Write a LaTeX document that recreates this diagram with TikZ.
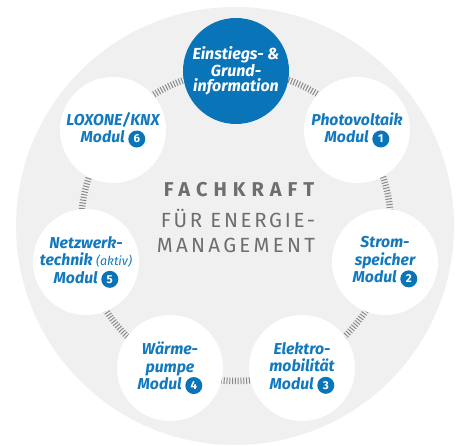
\documentclass[tikz,border=0pt]{standalone}
\usepackage{fontspec}
\setmainfont{Fira Sans}
\definecolor{bigbg}{HTML}{F0F0F0}
\definecolor{mblue}{HTML}{0A74B8}
\definecolor{tblue}{HTML}{1279BE}
\definecolor{cgray}{HTML}{6E6E6E}
\definecolor{tickgray}{HTML}{8A8A8A}
\newcommand{\numbadge}[1]{\tikz[baseline=(nb.base)]\node[badge](nb){#1};}
\tikzset{
  modcircle/.style={circle,fill=white,minimum size=106pt,inner sep=0pt,align=center,
     text=tblue,font=\fontsize{15.8}{17.5}\selectfont\bfseries\itshape},
  topcircle/.style={circle,fill=mblue,minimum size=106pt,inner sep=0pt,align=center,
     text=white,font=\fontsize{16}{15.5}\selectfont\bfseries\itshape},
  badge/.style={circle,fill=mblue,text=white,inner sep=0pt,minimum size=17pt,
     font=\fontsize{11.5}{12}\selectfont\bfseries\upshape},
  ticks/.style={draw=tickgray,line width=6.5pt,dash pattern=on 1pt off 1.8pt},
  centertext/.style={text=cgray,align=center}
}
\begin{document}
\begin{tikzpicture}[x=1pt,y=-1pt]
\useasboundingbox (0,0) rectangle (463,446);
\fill[bigbg] (235,226) circle[radius=219];
\coordinate (rc) at (236,226);
\draw[ticks] (rc) circle[radius=155];
\node[topcircle] (top) at (236,71) {Einstiegs- \&\\Grund-\\information};
\node[modcircle] (pv) at (357,130) {Photovoltaik\\Modul \numbadge{1}};
\node[modcircle] (strom) at (385,262) {Strom-\\speicher\\Modul \numbadge{2}};
\node[modcircle] (emob) at (302,368) {Elektro-\\mobilität\\Modul \numbadge{3}};
\node[modcircle] (wp) at (170,368) {Wärme-\\pumpe\\Modul \numbadge{4}};
\node[modcircle] (netz) at (86,262) {Netzwerk-\\technik {\fontsize{12.5}{13}\selectfont\mdseries(aktiv)}\\Modul \numbadge{5}};
\node[modcircle] (lox) at (113,130) {LOXONE/KNX\\Modul \numbadge{6}};
\node[centertext,font=\fontsize{20}{21}\selectfont\bfseries\addfontfeature{LetterSpace=30}] (t1) at (239,190) {FACHKRAFT};
\node[centertext,font=\fontsize{20.5}{21}\selectfont\addfontfeature{LetterSpace=13}] (t2) at (238,218) {FÜR ENERGIE-};
\node[centertext,font=\fontsize{20.5}{21}\selectfont\addfontfeature{LetterSpace=16}] (t3) at (236,245) {MANAGEMENT};
\end{tikzpicture}
\end{document}
